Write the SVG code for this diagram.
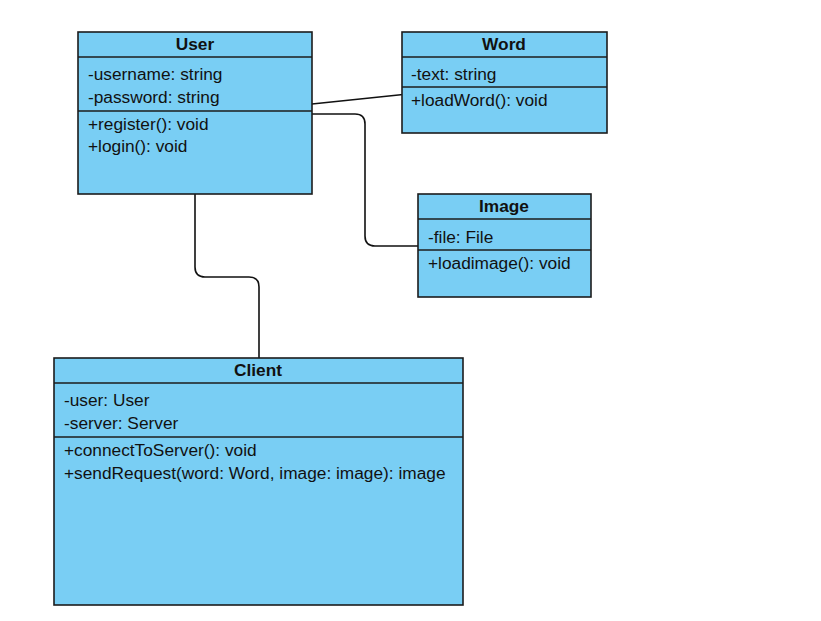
<svg xmlns="http://www.w3.org/2000/svg" width="821" height="621" viewBox="0 0 821 621">
<style>
.box{fill:#79cef4;stroke:#1c1c1c;stroke-width:1.6}
.ln{stroke:#1c1c1c;stroke-width:1.6;fill:none}
.t{font-family:"Liberation Sans",Arial,sans-serif;font-size:17.3px;fill:#111}
.h{font-family:"Liberation Sans",Arial,sans-serif;font-size:17.3px;font-weight:bold;fill:#111;text-anchor:middle}
.c{stroke:#111;stroke-width:1.6;fill:none}
</style>
<rect width="821" height="621" fill="#fff"/>
<g id="connectors">
<path class="c" d="M312,104 L408,94"/>
<path class="c" d="M312,114 L355,114 Q365,114 365,124 L365,236 Q365,246 375,246 L418,246"/>
<path class="c" d="M195,194 L195,267 Q195,277 205,277 L249,277 Q259,277 259,287 L259,358"/>
</g>
<g id="User">
<rect class="box" x="78" y="32" width="234" height="162"/>
<line class="ln" x1="78" y1="57" x2="312" y2="57"/>
<line class="ln" x1="78" y1="111" x2="312" y2="111"/>
<text class="h" x="195" y="50">User</text>
<text class="t" x="88" y="80">-username: string</text>
<text class="t" x="88" y="103">-password: string</text>
<text class="t" x="88" y="130">+register(): void</text>
<text class="t" x="88" y="152">+login(): void</text>
</g>
<g id="Word">
<rect class="box" x="402" y="32" width="205" height="101"/>
<line class="ln" x1="402" y1="57" x2="607" y2="57"/>
<line class="ln" x1="402" y1="87" x2="607" y2="87"/>
<text class="h" x="504" y="50">Word</text>
<text class="t" x="411" y="80">-text: string</text>
<text class="t" x="411" y="106">+loadWord(): void</text>
</g>
<g id="Image">
<rect class="box" x="418" y="194" width="173" height="103"/>
<line class="ln" x1="418" y1="219" x2="591" y2="219"/>
<line class="ln" x1="418" y1="250" x2="591" y2="250"/>
<text class="h" x="504" y="212">Image</text>
<text class="t" x="428" y="243">-file: File</text>
<text class="t" x="428" y="269">+loadimage(): void</text>
</g>
<g id="Client">
<rect class="box" x="54" y="358" width="409" height="247"/>
<line class="ln" x1="54" y1="383" x2="463" y2="383"/>
<line class="ln" x1="54" y1="437" x2="463" y2="437"/>
<text class="h" x="258" y="376">Client</text>
<text class="t" x="64" y="406">-user: User</text>
<text class="t" x="64" y="429">-server: Server</text>
<text class="t" x="64" y="456">+connectToServer(): void</text>
<text class="t" x="64" y="479">+sendRequest(word: Word, image: image): image</text>
</g>
</svg>
